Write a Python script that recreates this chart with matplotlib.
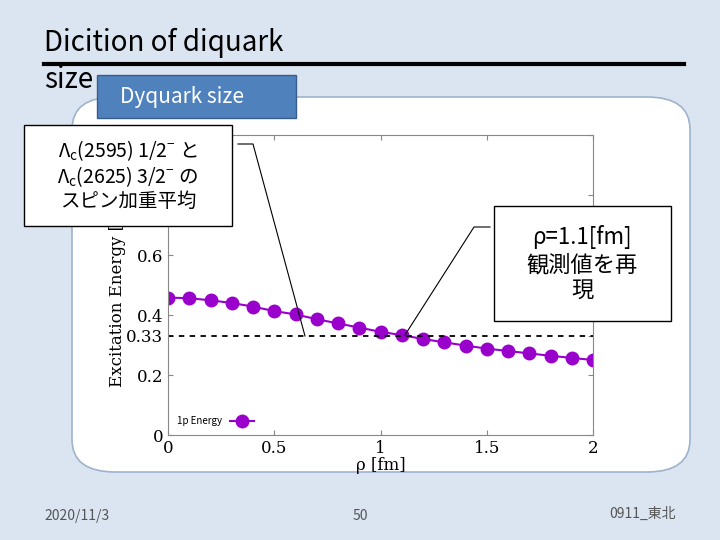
import matplotlib
matplotlib.use("Agg")
import matplotlib.pyplot as plt
from matplotlib.patches import FancyBboxPatch, Rectangle
from matplotlib.lines import Line2D

plt.rcParams['font.family'] = ['Noto Sans CJK JP', 'DejaVu Sans']

rho = [0, 0.1, 0.2, 0.3, 0.4, 0.5, 0.6, 0.7, 0.8, 0.9, 1.0, 1.1, 1.2, 1.3, 1.4, 1.5, 1.6, 1.7, 1.8, 1.9, 2.0]
energy = [0.458, 0.456, 0.449, 0.440, 0.428, 0.413, 0.402, 0.386, 0.372, 0.358, 0.344, 0.333,
          0.320, 0.309, 0.298, 0.288, 0.280, 0.272, 0.264, 0.257, 0.250]
ref_level = 0.33
yticks = [0, 0.2, 0.33, 0.4, 0.6, 0.8, 1.0]
ytick_labels = ['0', '0.2', '0.33', '0.4', '0.6', '0.8', '1']
xticks = [0, 0.5, 1, 1.5, 2]
xtick_labels = ['0', '0.5', '1', '1.5', '2']

fig = plt.figure(figsize=(7.2, 5.4), dpi=100)
fig.patch.set_facecolor('#dbe5f1')
W, H = 720, 540
def fx(x): return x / W
def fy(y): return 1 - y / H

panel = FancyBboxPatch((fx(72), fy(472)), fx(690) - fx(72), fy(97) - fy(472),
                       boxstyle="round,pad=0,rounding_size=0.06", transform=fig.transFigure,
                       facecolor='white', edgecolor='#9fb3cc', lw=1.2, zorder=-1)
fig.patches.append(panel)

ax = fig.add_axes([fx(168), fy(435), fx(593) - fx(168), fy(135) - fy(435)])
ax.set_zorder(1)
ax.plot(rho, energy, '-o', color='#9900cc', markersize=9, lw=1.5, label='1p Energy')
ax.axhline(ref_level, color='black', ls=(0, (3, 3)), lw=1.3)
ax.set_xlim(0, 2)
ax.set_ylim(0, 1)
ax.set_yticks(yticks)
ax.set_yticklabels(ytick_labels, family='DejaVu Serif', fontsize=12)
ax.set_xticks(xticks)
ax.set_xticklabels(xtick_labels, family='DejaVu Serif', fontsize=12)
ax.tick_params(direction='in', top=True, right=True, color='#888888')
for s in ax.spines.values():
    s.set_color('#888888')
ax.set_xlabel('ρ [fm]', family='DejaVu Serif', fontsize=12, labelpad=0)
ax.set_ylabel('Excitation Energy [GeV]', family='DejaVu Serif', fontsize=12, labelpad=0)
ax.legend(loc='lower left', frameon=False, fontsize=7, markerfirst=False, handlelength=2.5)

fig.text(fx(44), fy(43), 'Dicition of diquark', fontsize=20, va='center', ha='left')
fig.text(fx(44), fy(80), 'size', fontsize=20, va='center', ha='left')
fig.lines.append(Line2D([fx(44), fx(684)], [fy(64), fy(64)], transform=fig.transFigure, color='black', lw=3))

fig.patches.append(Rectangle((fx(97), fy(118)), fx(296) - fx(97), fy(75) - fy(118),
                             transform=fig.transFigure, facecolor='#4f81bd', edgecolor='#385d8a', lw=1, zorder=2))
fig.text(fx(182), fy(97), 'Dyquark size', fontsize=15, color='white', ha='center', va='center', zorder=3)

fig.patches.append(Rectangle((fx(24), fy(226)), fx(232) - fx(24), fy(125) - fy(226),
                             transform=fig.transFigure, facecolor='white', edgecolor='black', lw=1, zorder=5))
fig.text(fx(128), fy(175), 'Λ$_\\mathregular{c}$(2595) 1/2$^{\\mathregular{-}}$ と\nΛ$_\\mathregular{c}$(2625) 3/2$^{\\mathregular{-}}$ の\nスピン加重平均',
         fontsize=14, ha='center', va='center', linespacing=1.1, zorder=6)
fig.lines.append(Line2D([fx(238), fx(253), fx(305)], [fy(144), fy(144), fy(336)],
                        transform=fig.transFigure, color='black', lw=0.8, zorder=6))

fig.patches.append(Rectangle((fx(494), fy(321)), fx(671) - fx(494), fy(206) - fy(321),
                             transform=fig.transFigure, facecolor='white', edgecolor='black', lw=1, zorder=5))
fig.text(fx(582), fy(264), 'ρ=1.1[fm]\n観測値を再\n現', fontsize=16, ha='center', va='center',
         linespacing=1.2, zorder=6)
fig.lines.append(Line2D([fx(490), fx(474), fx(405)], [fy(227), fy(227), fy(335)],
                        transform=fig.transFigure, color='black', lw=0.8, zorder=6))

fig.text(fx(44), fy(516), '2020/11/3', fontsize=10, color='#555555', ha='left', va='center')
fig.text(fx(360), fy(516), '50', fontsize=10, color='#555555', ha='center', va='center')
fig.text(fx(676), fy(514), '0911_東北', fontsize=10, color='#555555', ha='right', va='center')

fig.savefig('out.png', dpi=100, facecolor=fig.get_facecolor())
